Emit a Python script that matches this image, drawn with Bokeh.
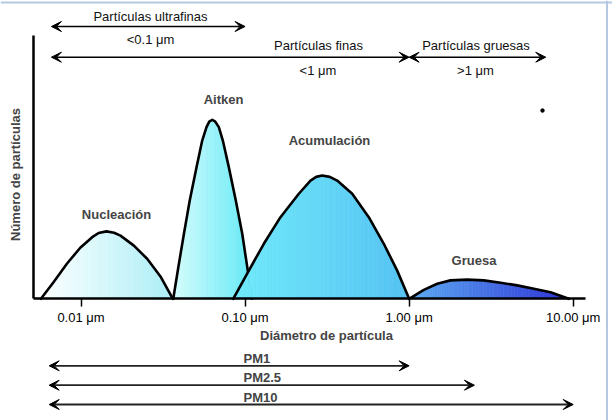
import math
from bokeh.plotting import figure
from bokeh.models import (Range1d, LogAxis, LinearAxis, FixedTicker, PrintfTickFormatter,
                          Arrow, VeeHead, Label, Span)
from bokeh.embed import file_html
from bokeh.resources import INLINE

# ---------------- data ----------------
tick_values = [0.01, 0.1, 1.0, 10.0]

mode_names = ["Nucleación", "Aitken", "Acumulación", "Gruesa"]

nuc_x = [0.0057, 0.0068, 0.0082, 0.0099, 0.0117, 0.0128, 0.0143, 0.0159, 0.0174, 0.0210, 0.0253, 0.0305, 0.0363]
nuc_y = [0, 6.3, 13.3, 19.4, 23.4, 25.0, 25.6, 25.1, 24.0, 20.2, 15.2, 8.5, 0]

ait_x = [0.0365, 0.0392, 0.0424, 0.0460, 0.0506, 0.0548, 0.0582, 0.0605, 0.0631, 0.0658, 0.0692, 0.0732, 0.0796, 0.0878, 0.0961, 0.1039, 0.1099]
ait_y = [0, 12.0, 24.7, 37.3, 50.0, 60.1, 65.2, 67.3, 68.0, 67.3, 65.2, 60.1, 50.0, 37.3, 24.7, 10.7, 0]

acu_x = [0.0847, 0.1054, 0.1301, 0.1644, 0.2126, 0.2505, 0.2714, 0.2952, 0.3284, 0.3642, 0.4498, 0.5676, 0.7008, 0.8457, 1.0]
acu_y = [0, 10.7, 20.9, 31.0, 39.9, 44.9, 46.3, 46.8, 46.3, 44.9, 39.9, 31.0, 20.9, 10.7, 0]

gru_x = [1.0, 1.229, 1.483, 1.787, 2.258, 2.851, 3.605, 4.556, 5.753, 7.272, 9.40]
gru_y = [0, 3.4, 5.7, 7.0, 7.3, 7.0, 6.1, 5.1, 3.8, 2.5, 0]

range_names = ["Partículas ultrafinas", "Partículas finas", "Partículas gruesas"]
range_limits = ["<0.1 μm", "<1 μm", ">1 μm"]
range_lo = [0.0066, 0.0066, 1.0]
range_hi = [0.1, 1.0, 6.8]

pm_names = ["PM1", "PM2.5", "PM10"]
pm_lo = [0.0064, 0.0064, 0.0064]
pm_hi = [1.0, 2.5, 10.0]

stray_x = [6.5]
stray_y = [71.5]

# ---------------- layout helpers (pixel -> data) ----------------
W, H = 612, 420
PX0, DEC = 80.5, 164.07       # pixel of 0.01 um, pixels per decade
BASE, UNIT = 298.3, 2.633     # pixel of baseline, pixels per y unit


def dx(px):
    return 10 ** (-2 + (px - PX0) / DEC)


def dy(py):
    return (BASE - py) / UNIT


FONT = "Liberation Sans"

p = figure(width=W, height=H, x_axis_type="log",
           x_range=Range1d(dx(0), dx(W)), y_range=Range1d(dy(H), dy(0)),
           x_axis_location=None, y_axis_location=None,
           toolbar_location=None, output_backend="svg", min_border=0,
           outline_line_color=None, background_fill_color="white",
           border_fill_color="white")
p.xgrid.grid_line_color = None
p.ygrid.grid_line_color = None


def mix(c0, c1, t):
    t = max(0.0, min(1.0, t))
    r = [round(a + (b - a) * t) for a, b in zip(c0, c1)]
    return "#%02x%02x%02x" % tuple(r)


def gradient_fill(xs, ys, c0, c1, n=6):
    lx = [math.log10(v) for v in xs]
    L0, L1 = lx[0], lx[-1]
    pxs, pys, cols = [], [], []
    for i in range(len(xs) - 1):
        for k in range(n):
            a, b = k / n, (k + 1) / n
            la = lx[i] + (lx[i + 1] - lx[i]) * a
            lb = lx[i] + (lx[i + 1] - lx[i]) * b
            ya = ys[i] + (ys[i + 1] - ys[i]) * a
            yb = ys[i] + (ys[i + 1] - ys[i]) * b
            t = ((la + lb) / 2 - L0) / (L1 - L0)
            c = mix(c0, c1, t)
            pxs.append([10 ** la, 10 ** la, 10 ** lb, 10 ** lb])
            pys.append([0, ya, yb, 0])
            cols.append(c)
    p.patches(xs=pxs, ys=pys, fill_color=cols, line_color=cols, line_width=0.7)
    p.line(xs, ys, line_color="black", line_width=2.6, line_join="round", line_cap="round")


gradient_fill(nuc_x, nuc_y, (252, 255, 255), (172, 238, 246))
gradient_fill(ait_x, ait_y, (214, 252, 252), (100, 234, 246))
gradient_fill(acu_x, acu_y, (112, 234, 250), (84, 194, 242))
gradient_fill(gru_x, gru_y, (92, 172, 242), (46, 50, 214))

p.scatter(stray_x, stray_y, size=3.5, color="black")

# ---------------- axes ----------------
xaxis = LogAxis(fixed_location=0, bounds=(dx(33), dx(585)),
                ticker=FixedTicker(ticks=tick_values, minor_ticks=[]),
                formatter=PrintfTickFormatter(format="%.2f μm"),
                axis_line_width=2.5, axis_line_color="black",
                major_tick_in=0, major_tick_out=8, major_tick_line_width=1.5,
                major_tick_line_color="black", minor_tick_line_color=None,
                major_label_text_font=FONT, major_label_text_font_size="13px",
                major_label_text_color="black", major_label_standoff=3)
p.add_layout(xaxis, "below")

yaxis = LinearAxis(fixed_location=dx(33.3), bounds=(0, 100),
                   ticker=FixedTicker(ticks=[]),
                   axis_line_width=2.5, axis_line_color="black",
                   major_tick_line_color=None, minor_tick_line_color=None,
                   major_label_text_font_size="0px")
p.add_layout(yaxis, "left")

# axis titles
p.add_layout(Label(x=dx(326), y=dy(334.5), text="Diámetro de partícula",
                   text_font=FONT, text_font_size="13px", text_font_style="bold",
                   text_align="center", text_baseline="middle"))
p.add_layout(Label(x=dx(15), y=dy(174), text="Número de partículas", angle=90,
                   angle_units="deg", text_font=FONT, text_font_size="13px",
                   text_font_style="bold", text_align="center", text_baseline="middle"))

# mode labels
mode_pos = [(116, 214), (223, 99), (329, 140), (473.5, 260)]
for name, (lx, ly) in zip(mode_names, mode_pos):
    p.add_layout(Label(x=dx(lx), y=dy(ly), text=name, text_font=FONT,
                       text_font_size="13px", text_font_style="bold",
                       text_align="center", text_baseline="middle"))


def head():
    return VeeHead(size=10, fill_color="black", line_color="black", line_width=1)


# size range arrows (top)
range_arrow_py = [26, 56.7, 56.7]
range_name_pos = [(150, 15.5), (318, 45), (475.5, 45)]
range_lim_pos = [(150, 38.5), (317.5, 70), (475, 70)]
for i in range(3):
    p.add_layout(Arrow(start=head(), end=head(), x_start=range_lo[i], x_end=range_hi[i],
                       y_start=dy(range_arrow_py[i]), y_end=dy(range_arrow_py[i]),
                       line_width=1.5, line_color="black"))
    p.add_layout(Label(x=dx(range_name_pos[i][0]), y=dy(range_name_pos[i][1]),
                       text=range_names[i], text_font=FONT, text_font_size="13px",
                       text_align="center", text_baseline="middle", text_color="#111111"))
    p.add_layout(Label(x=dx(range_lim_pos[i][0]), y=dy(range_lim_pos[i][1]),
                       text=range_limits[i], text_font=FONT, text_font_size="13px",
                       text_align="center", text_baseline="middle", text_color="#111111"))

# PM arrows (bottom)
pm_arrow_py = [365.3, 384.7, 404]
pm_label_py = [357.7, 377.3, 397.3]
for i in range(3):
    p.add_layout(Arrow(start=head(), end=head(), x_start=pm_lo[i], x_end=pm_hi[i],
                       y_start=dy(pm_arrow_py[i]), y_end=dy(pm_arrow_py[i]),
                       line_width=1.8, line_color="#222222"))
    p.add_layout(Label(x=dx(243), y=dy(pm_label_py[i]), text=pm_names[i],
                       text_font=FONT, text_font_size="13px", text_font_style="bold",
                       text_align="left", text_baseline="middle"))

# page border (top and right)
p.add_layout(Span(location=dy(2), dimension="width", line_color="#b4c9e1", line_width=2))
p.add_layout(Span(location=dx(606.5), dimension="height", line_color="#b4c9e1", line_width=2))

open("out.html", "w").write(file_html(p, INLINE))
